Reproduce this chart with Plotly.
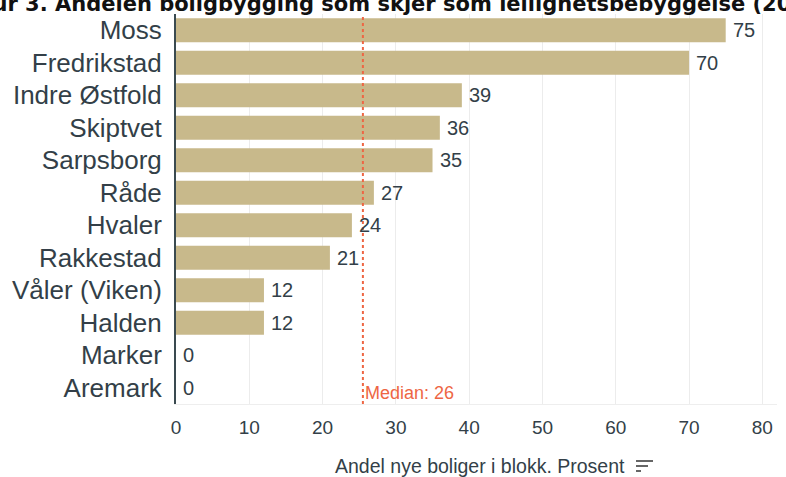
import plotly.graph_objects as go

categories = ["Moss", "Fredrikstad", "Indre Østfold", "Skiptvet", "Sarpsborg", "Råde",
              "Hvaler", "Rakkestad", "Våler (Viken)", "Halden", "Marker", "Aremark"]
values = [75, 70, 39, 36, 35, 27, 24, 21, 12, 12, 0, 0]
median_value = 25.5
median_label = "Median: 26"
x_ticks = [0, 10, 20, 30, 40, 50, 60, 70, 80]
title_text = "Figur 3. Andelen boligbygging som skjer som leilighetsbebyggelse (2022)"
axis_title = "Andel nye boliger i blokk. Prosent"

BAR = "#c8b98b"
TXT = "#333f48"
MED = "#ee6644"
FONT = "Liberation Sans, Arial"

W, H = 786, 477
ML, MR, MT, MB = 176, 9, 14, 73
PW, PH = W - ML - MR, H - MT - MB

fig = go.Figure()
fig.add_trace(go.Bar(
    x=values, y=categories, orientation="h",
    marker=dict(color=BAR, line=dict(width=0)),
    hoverinfo="skip",
))

for c, v in zip(categories, values):
    fig.add_annotation(x=v, y=c, xref="x", yref="y", text=str(v), showarrow=False,
                       xanchor="left", yanchor="middle", xshift=5,
                       font=dict(family=FONT, size=20, color=TXT))

fig.add_shape(type="line", x0=median_value, x1=median_value, y0=0, y1=1,
              xref="x", yref="paper", line=dict(color=MED, width=2, dash="dot"))
fig.add_annotation(x=median_value, y=0, xref="x", yref="paper", text=median_label,
                   showarrow=False, xanchor="left", yanchor="bottom", xshift=0, yshift=-1,
                   font=dict(family=FONT, size=18, color=MED))

fig.add_annotation(x=(480 - ML) / PW, y=-(466 - (H - MB)) / PH, xref="paper", yref="paper",
                   text=axis_title, showarrow=False, xanchor="center", yanchor="middle",
                   font=dict(family=FONT, size=19.5, color=TXT))
# sort icon next to the axis title
for i, w in enumerate([17, 12, 5]):
    yy = 461 + i * 5
    fig.add_shape(type="line", xref="paper", yref="paper",
                  x0=(636 - ML) / PW, x1=(636 + w - ML) / PW,
                  y0=-(yy - (H - MB)) / PH, y1=-(yy - (H - MB)) / PH,
                  line=dict(color="#666", width=2))

fig.update_layout(
    width=W, height=H,
    margin=dict(l=ML, r=MR, t=MT, b=MB),
    paper_bgcolor="white", plot_bgcolor="white",
    showlegend=False, bargap=0.26,
    title=dict(text=title_text, x=0.5, xanchor="center", y=1 - 4 / H, yref="container",
               yanchor="middle", pad=dict(t=0, b=0, l=0, r=0),
               font=dict(family="DejaVu Sans", size=21, color="#111", weight="bold")),
    xaxis=dict(range=[0, 82], tickvals=x_ticks, showgrid=True, gridcolor="#ececec",
               gridwidth=1, zeroline=False, showline=True, linecolor="#eeeeee",
               ticks="outside", ticklen=6, tickcolor="rgba(0,0,0,0)",
               tickfont=dict(family=FONT, size=19, color=TXT)),
    yaxis=dict(autorange="reversed", showgrid=False, zeroline=False,
               showline=True, linecolor="#3a4a50", linewidth=2,
               ticks="outside", ticklen=7, tickcolor="rgba(0,0,0,0)",
               tickfont=dict(family=FONT, size=26, color=TXT)),
)

fig.write_html("out.html", config={"displayModeBar": False},
               post_script="document.body.style.margin='0';")
